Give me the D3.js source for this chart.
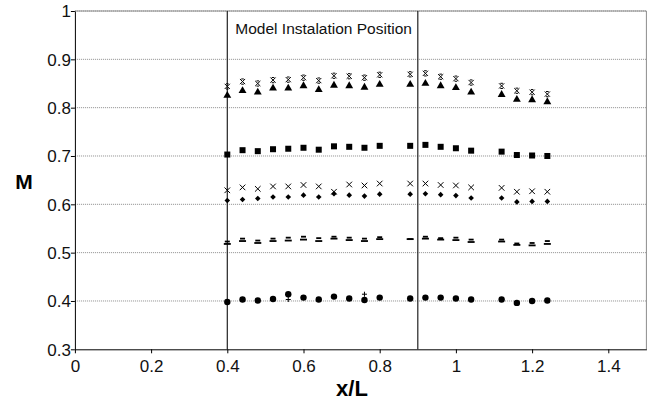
<!DOCTYPE html>
<html><head><meta charset="utf-8">
<script src="https://cdn.jsdelivr.net/npm/d3@7"></script>
<style>body{margin:0;background:#fff} text{font-family:Arial,"Liberation Sans",sans-serif}</style>
</head><body>
<svg id="c" width="655" height="401"></svg>
<script>
// ---- data ----
const xPos = [0.40,0.44,0.48,0.52,0.56,0.60,0.64,0.68,0.72,0.76,0.80,0.88,0.92,0.96,1.00,1.04,1.12,1.16,1.20,1.24];
const starVals     = [0.844,0.854,0.850,0.857,0.858,0.862,0.856,0.866,0.865,0.862,0.868,0.869,0.871,0.864,0.860,0.852,0.845,0.835,0.832,0.828];
const triangleVals = [0.825,0.835,0.832,0.840,0.840,0.845,0.837,0.846,0.845,0.842,0.848,0.848,0.850,0.845,0.841,0.832,0.827,0.817,0.816,0.812];
const squareVals   = [0.703,0.712,0.710,0.714,0.715,0.717,0.713,0.720,0.719,0.717,0.721,0.721,0.723,0.719,0.716,0.711,0.709,0.702,0.701,0.700];
const crossVals    = [0.629,0.635,0.632,0.637,0.637,0.640,0.637,0.626,0.641,0.639,0.643,0.643,0.643,0.640,0.639,0.635,0.634,0.626,0.627,0.626];
const diamondVals  = [0.608,0.610,0.612,0.615,0.615,0.619,0.615,0.622,0.619,0.617,0.621,0.621,0.622,0.620,0.618,0.613,0.613,0.605,0.606,0.606];
const dashVals     = [0.523,0.529,0.525,0.529,0.531,0.533,0.530,0.533,0.531,0.529,0.532,0.528,0.533,0.530,0.531,0.527,0.527,0.519,0.520,0.524];
const longDashVals = [0.518,0.524,0.520,0.524,0.525,0.527,0.524,0.529,0.526,0.524,0.528,0.528,0.529,0.527,0.526,0.522,0.523,0.516,0.515,0.518];
const plusVals     = [0.398,0.403,0.401,0.404,0.403,0.407,0.403,0.409,0.405,0.414,0.407,0.405,0.407,0.407,0.405,0.403,0.403,0.396,0.400,0.401];
const circleVals   = [0.398,0.403,0.401,0.404,0.414,0.407,0.403,0.409,0.405,0.402,0.407,0.405,0.407,0.407,0.405,0.403,0.403,0.396,0.400,0.401];
const xTicks = [0,0.2,0.4,0.6,0.8,1,1.2,1.4];
const yTicks = [0.3,0.4,0.5,0.6,0.7,0.8,0.9,1];
const markerLines = [0.4,0.9];
const annotation = "Model Instalation Position";
const xTitle = "x/L", yTitle = "M";

// ---- layout ----
const W = 655, H = 401;
const m = {left:74.9, right:8.6, top:11, bottom:51.7};
const svg = d3.select("#c");
const x = d3.scaleLinear().domain([0,1.5]).range([m.left, W-m.right]);
const y = d3.scaleLinear().domain([0.3,1]).range([H-m.bottom, m.top]);

// gridlines
svg.append("g").selectAll("line").data(yTicks.filter(v=>v>0.3)).join("line")
  .attr("x1", x(0)).attr("x2", x(1.5)).attr("y1", d=>y(d)).attr("y2", d=>y(d))
  .attr("stroke","#8c8c8c").attr("stroke-width",1).attr("stroke-dasharray","1,1");

// frame (top/right)
svg.append("path")
  .attr("d", `M${x(0)},${y(1)}H${x(1.5)}V${y(0.3)}`)
  .attr("fill","none").attr("stroke","#8c8c8c").attr("stroke-width",1);

// vertical position lines
svg.append("g").selectAll("line").data(markerLines).join("line")
  .attr("x1", d=>x(d)).attr("x2", d=>x(d)).attr("y1", y(1)).attr("y2", y(0.3))
  .attr("stroke","#222").attr("stroke-width",1.2);

// axes
const xAxis = svg.append("g").attr("transform",`translate(0,${y(0.3)})`)
  .call(d3.axisBottom(x).tickValues(xTicks).tickSize(4).tickSizeOuter(0).tickFormat(d3.format("~g")));
const yAxis = svg.append("g").attr("transform",`translate(${x(0)},0)`)
  .call(d3.axisLeft(y).tickValues(yTicks).tickSize(4).tickSizeOuter(0).tickFormat(d3.format("~g")));
[xAxis,yAxis].forEach(g=>{
  g.select(".domain").attr("stroke","#000");
  g.selectAll(".tick line").attr("stroke","#000");
  g.selectAll(".tick text").attr("fill","#111").style("font-size","17px")
   .style("font-family","Arial, 'Liberation Sans', sans-serif");
});
xAxis.selectAll(".tick text").attr("dy","0.9em").attr("y",7);
yAxis.selectAll(".tick text").attr("x",-4).attr("dy","0.35em");

// annotation
svg.append("text").attr("x", x(0.4)+8).attr("y", 34)
  .style("font-size","15.5px").attr("fill","#111").text(annotation);

// axis titles
svg.append("text").attr("x", 352).attr("y", 396).attr("text-anchor","middle")
  .style("font-size","22px").style("font-weight","bold").text(xTitle);
svg.append("text").attr("x", 24).attr("y", 189).attr("text-anchor","middle")
  .style("font-size","21px").style("font-weight","bold").text(yTitle);

// ---- markers ----
const g = svg.append("g");
function draw(vals, fn){
  vals.forEach((v,i)=> fn(x(xPos[i]), y(v)));
}
const ink = "#000";
// plus
draw(plusVals,(cx,cy)=> g.append("path").attr("d",`M${cx-2.5},${cy}H${cx+2.5}M${cx},${cy-2.5}V${cy+2.5}`).attr("stroke",ink).attr("stroke-width",1));
// circle
draw(circleVals,(cx,cy)=> g.append("circle").attr("cx",cx).attr("cy",cy).attr("r",3.2).attr("fill",ink));
// dashes
draw(dashVals,(cx,cy)=> g.append("rect").attr("x",cx-2.5).attr("y",cy-0.9).attr("width",5).attr("height",1.8).attr("fill",ink));
draw(longDashVals,(cx,cy)=> g.append("rect").attr("x",cx-3.5).attr("y",cy-0.9).attr("width",7).attr("height",1.8).attr("fill",ink));
// diamond
const diamond = d3.symbol().type(d3.symbolDiamond2).size(20);
draw(diamondVals,(cx,cy)=> g.append("path").attr("d",diamond()).attr("transform",`translate(${cx},${cy})`).attr("fill",ink));
// x
draw(crossVals,(cx,cy)=> g.append("path").attr("d",`M${cx-2.8},${cy-2.8}L${cx+2.8},${cy+2.8}M${cx-2.8},${cy+2.8}L${cx+2.8},${cy-2.8}`).attr("stroke",ink).attr("stroke-width",1));
// square
draw(squareVals,(cx,cy)=> g.append("rect").attr("x",cx-3).attr("y",cy-3).attr("width",6).attr("height",6).attr("fill",ink));
// triangle
const tri = d3.symbol().type(d3.symbolTriangle).size(27);
draw(triangleVals,(cx,cy)=> g.append("path").attr("d",tri()).attr("transform",`translate(${cx},${cy})`).attr("fill",ink));
// star (x with short caps)
draw(starVals,(cx,cy)=> g.append("path").attr("d",`M${cx-2.6},${cy-2.6}L${cx+2.6},${cy+2.6}M${cx-2.6},${cy+2.6}L${cx+2.6},${cy-2.6}M${cx-1.3},${cy-2.6}H${cx+1.3}M${cx-1.3},${cy+2.6}H${cx+1.3}`).attr("stroke",ink).attr("stroke-width",1));
</script>
</body></html>
